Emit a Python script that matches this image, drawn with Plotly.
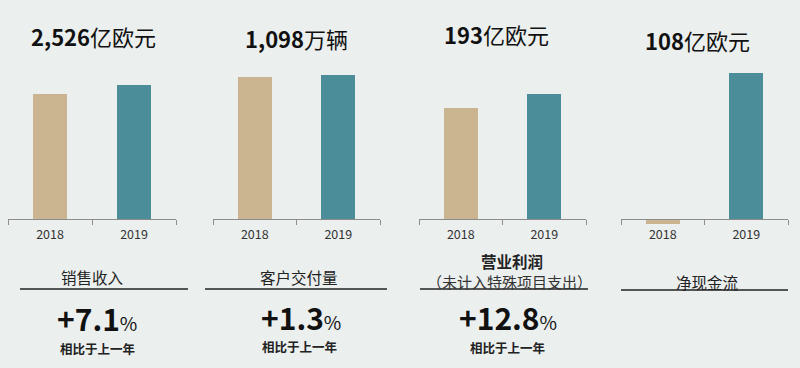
import plotly.graph_objects as go

W, H = 800, 368

years = ["2018", "2019"]
sales_revenue = [235.8, 252.6]       # 亿欧元
deliveries = [1083, 1098]            # 万辆
operating_profit = [171.1, 193.0]    # 亿欧元
net_cash_flow = [-3.5, 108.0]        # 亿欧元

titles = ["<b>2,526</b>亿欧元", "<b>1,098</b>万辆", "<b>193</b>亿欧元", "<b>108</b>亿欧元"]
labels = ["销售收入", "客户交付量", "<b>营业利润</b>", "净现金流"]
sub_label = "（未计入特殊项目支出）"
changes = ["+7.1", "+1.3", "+12.8", None]
change_note = "相比于上一年"

series = [sales_revenue, deliveries, operating_profit, net_cash_flow]

TAN = "#cbb590"
TEAL = "#4b8e9a"
FONT = "Noto Sans CJK SC"

def py(p):
    return 1 - p / H

def px(p):
    return p / W

# layout geometry (pixels)
x_dom = [(8, 176), (213, 380), (419, 586), (621, 788)]
y_ranges = [(-17.0, 299.7), (-68.6, 1212.0), (-13.9, 245.5), (-6.66, 117.6)]
zero_px = 219
dom_top, dom_bot = 60, 228

fig = go.Figure()
for i, vals in enumerate(series):
    n = "" if i == 0 else str(i + 1)
    fig.add_trace(go.Bar(
        x=years, y=vals, marker_color=[TAN, TEAL], marker_line_width=0,
        width=0.41, xaxis="x" + n, yaxis="y" + n, showlegend=False,
    ))
    fig.layout["xaxis" + n] = dict(
        domain=[px(x_dom[i][0]), px(x_dom[i][1])],
        anchor="free", position=py(zero_px),
        type="category", range=[-0.5, 1.5],
        showline=True, linecolor="#8c8c8c", linewidth=1.3,
        ticks="outside", tickson="boundaries", ticklen=5,
        tickcolor="#8c8c8c", tickwidth=1.2, ticklabelstandoff=4,
        tickfont=dict(family=FONT, size=12.5, color="#333333"),
        showgrid=False, zeroline=False, fixedrange=True,
    )
    fig.layout["yaxis" + n] = dict(
        domain=[py(dom_bot), py(dom_top)],
        anchor="x" + n, range=list(y_ranges[i]),
        visible=False, showgrid=False, zeroline=False, fixedrange=True,
    )

annotations = []
title_pos = [(93, 36), (296, 38), (496, 34), (697, 40)]
for t, (x, y) in zip(titles, title_pos):
    annotations.append(dict(text=t, x=px(x), y=py(y), xref="paper", yref="paper",
                            showarrow=False, xanchor="center", yanchor="middle",
                            font=dict(family=FONT, size=22, color="#111111")))

label_pos = [(92, 277), (299, 277), (512, 261), (707, 282)]
for t, (x, y) in zip(labels, label_pos):
    annotations.append(dict(text=t, x=px(x), y=py(y), xref="paper", yref="paper",
                            showarrow=False, xanchor="center", yanchor="middle",
                            font=dict(family=FONT, size=15.5, color="#222222")))
annotations.append(dict(text=sub_label, x=px(510), y=py(281), xref="paper", yref="paper",
                        showarrow=False, xanchor="center", yanchor="middle",
                        font=dict(family=FONT, size=15, color="#333333")))

change_pos = [(97, 318), (301, 317), (508, 317)]
note_pos = [(97, 348), (299, 346), (507, 347)]
for c, (x, y), (nx, ny) in zip(changes, change_pos, note_pos):
    if c is None:
        continue
    annotations.append(dict(text=f"<b>{c}</b><span style='font-size:19px'>%</span>",
                            x=px(x), y=py(y), xref="paper", yref="paper",
                            showarrow=False, xanchor="center", yanchor="middle",
                            font=dict(family=FONT, size=30, color="#111111")))
    annotations.append(dict(text=f"<b>{change_note}</b>", x=px(nx), y=py(ny),
                            xref="paper", yref="paper",
                            showarrow=False, xanchor="center", yanchor="middle",
                            font=dict(family=FONT, size=12.5, color="#222222")))

shapes = []
underline = [(20, 188, 289), (205, 387, 289), (420, 588, 289), (621, 788, 290)]
for x0, x1, y in underline:
    shapes.append(dict(type="line", xref="paper", yref="paper",
                       x0=px(x0), x1=px(x1), y0=py(y), y1=py(y),
                       line=dict(color="#222222", width=1.5)))

fig.update_layout(
    width=W, height=H, margin=dict(l=0, r=0, t=0, b=0),
    paper_bgcolor="#ebefee", plot_bgcolor="rgba(0,0,0,0)",
    annotations=annotations, shapes=shapes, bargap=0,
    font=dict(family=FONT),
)

fig.write_html("out.html", config={"displayModeBar": False},
               post_script="document.body.style.margin='0';document.body.style.background='#ebefee';")
